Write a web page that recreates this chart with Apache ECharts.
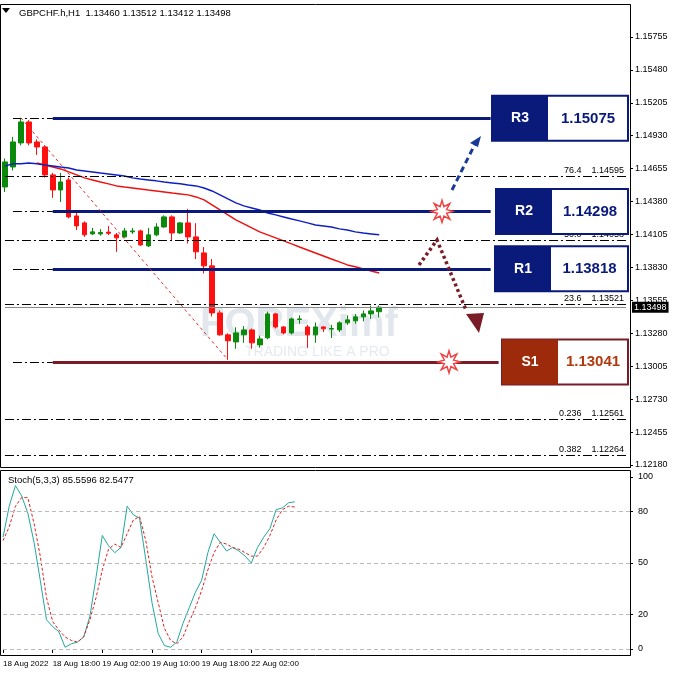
<!DOCTYPE html>
<html><head><meta charset="utf-8">
<script src="https://cdn.jsdelivr.net/npm/echarts@6/dist/echarts.min.js"></script>
<style>html,body{margin:0;padding:0;background:#fff}#c{width:678px;height:678px}</style>
</head><body><div id="c"></div>
<script>
// ---- data ----
const candles = [
[1.14502,1.14711,1.14460,1.14740],[1.14669,1.14878,1.14640,1.14920],[1.14870,1.15045,1.14850,1.15079],
[1.15045,1.14870,1.14850,1.15060],[1.14878,1.14836,1.14770,1.14900],[1.14836,1.14603,1.14580,1.14850],
[1.14603,1.14477,1.14411,1.14620],[1.14477,1.14544,1.14377,1.14619],[1.14561,1.14252,1.14240,1.14580],
[1.14260,1.14177,1.14143,1.14290],[1.14202,1.14102,1.14085,1.14215],[1.14110,1.14127,1.14100,1.14160],
[1.14110,1.14122,1.14095,1.14150],[1.14125,1.14115,1.14100,1.14175],[1.14102,1.14077,1.13960,1.14118],
[1.14085,1.14135,1.14080,1.14160],[1.14127,1.14135,1.14110,1.14160],[1.14135,1.14018,1.14010,1.14145],
[1.14010,1.14102,1.14000,1.14160],[1.14102,1.14168,1.14090,1.14200],[1.14168,1.14252,1.14160,1.14265],
[1.14252,1.14118,1.14050,1.14265],[1.14118,1.14202,1.14110,1.14210],[1.14202,1.14085,1.14030,1.14319],
[1.14085,1.13960,1.13900,1.14200],[1.13951,1.13843,1.13780,1.14000],[1.13843,1.13450,1.13420,1.13900],
[1.13450,1.13267,1.13260,1.13470],[1.13267,1.13217,1.13058,1.13280],[1.13208,1.13283,1.13150,1.13330],
[1.13267,1.13308,1.13200,1.13340],[1.13308,1.13200,1.13150,1.13320],[1.13183,1.13233,1.13160,1.13260],
[1.13242,1.13442,1.13230,1.13460],[1.13442,1.13333,1.13320,1.13450],[1.13333,1.13283,1.13270,1.13340],
[1.13283,1.13400,1.13270,1.13410],[1.13395,1.13400,1.13360,1.13430],[1.13333,1.13267,1.13158,1.13350],
[1.13267,1.13333,1.13200,1.13370],[1.13333,1.13317,1.13290,1.13340],[1.13315,1.13320,1.13240,1.13350],
[1.13308,1.13367,1.13290,1.13380],[1.13367,1.13392,1.13350,1.13430],[1.13384,1.13417,1.13360,1.13440],
[1.13417,1.13442,1.13380,1.13470],[1.13442,1.13467,1.13400,1.13510],[1.13460,1.13498,1.13412,1.13512]];
const maBlue = [1.14678,1.14695,1.14695,1.14703,1.14695,1.14686,1.14678,1.14669,1.14661,1.14644,1.14636,1.14628,
1.14619,1.14611,1.14603,1.14594,1.14578,1.14569,1.14561,1.14553,1.14544,1.14536,1.14528,1.14519,1.14511,1.14494,
1.14469,1.14436,1.14402,1.14369,1.14344,1.14327,1.14310,1.14285,1.14269,1.14252,1.14235,1.14219,1.14202,1.14185,
1.14177,1.14168,1.14152,1.14143,1.14127,1.14118,1.14110,1.14102];
const maRed = [null,null,null,null,1.14703,1.14686,1.14669,1.14653,1.14628,1.14603,1.14578,1.14561,1.14544,1.14528,
1.14511,1.14502,1.14494,1.14486,1.14477,1.14469,1.14461,1.14452,1.14444,1.14436,1.14419,1.14394,1.14352,1.14310,
1.14269,1.14227,1.14194,1.14160,1.14127,1.14102,1.14077,1.14052,1.14027,1.14001,1.13976,1.13951,1.13926,1.13901,
1.13876,1.13851,1.13835,1.13818,1.13801,1.13784];
const stochMain = [65,83,95,89,79,62,40,17,13,10,1,3,4,7,19,42,66,60,56,59,83,78,76,52,27,9,2,1,4,15,24,33,40,56,
67,62,57,59,57,54,50,59,65,70,81,82,85,85.56];
const stochSignal = [63,71,83,88,88,73,54,30,16,11,7,5,4,7,17,30,46,58,61,59,67,75,77,63,42,27,12,5,3,7,16,24,34,
46,56,62,61,59,58,56,54,54,59,66,75,81,83,82.55];
const priceTicks = [1.12180,1.12455,1.12730,1.13005,1.13280,1.13555,1.13830,1.14105,1.14380,1.14655,1.14930,1.15205,1.15480,1.15755];
const stochTicks = [0,20,50,80,100];
const timeLabels = {0:'18 Aug 2022',8:'18 Aug 18:00',16:'19 Aug 02:00',24:'19 Aug 10:00',32:'19 Aug 18:00',40:'22 Aug 02:00'};
const fibLevels = [['76.4',1.14595],['50.0',1.14058],['23.6',1.13521],['0.236',1.12561],['0.382',1.12264]];
const sr = [['R3',1.15075],['R2',1.14298],['R1',1.13818],['S1',1.13041]];
const lastPrice = 1.13498;
const header = 'GBPCHF.h,H1  1.13460 1.13512 1.13412 1.13498';
const stochHeader = 'Stoch(5,3,3) 85.5596 82.5477';

const topCats = Array.from({length:79},(_,i)=>i);
const botCats = Array.from({length:102},(_,i)=>i);
const F = 'Liberation Sans, Arial, sans-serif';
const dashDot = [9,3,2,3];
const navy = '#0a1a7a', maroon = '#7a1c28';
const END = 78;

const markLines = [];
fibLevels.forEach(([n,v])=>markLines.push([{coord:[0,v],lineStyle:{color:'#000',type:dashDot,width:1},
  label:{show:true,position:'insideEndTop',formatter:n+'    '+v.toFixed(5),fontSize:9,color:'#000',fontFamily:F,distance:[2,1]}},{coord:[END,v]}]));
sr.forEach(([n,v])=>{
  const col = n==='S1'?maroon:navy;
  markLines.push([{coord:[1,v],lineStyle:{color:'#000',type:dashDot,width:1},label:{show:false}},{coord:[6,v]}]);
  markLines.push([{coord:[6,v],lineStyle:{color:col,type:'solid',width:3},label:{show:false}},{coord:[n==='S1'?62:61,v]}]);
});
markLines.push([{coord:[0,lastPrice],lineStyle:{color:'#888',type:'solid',width:1},
  label:{show:true,position:'end',formatter:lastPrice.toFixed(5),backgroundColor:'#000',color:'#fff',fontSize:9,padding:[1,2],fontFamily:F,distance:6}},{coord:[END,lastPrice]}]);
markLines.push([{coord:[2,candles[2][3]],lineStyle:{color:'#e03030',type:[3,3],width:1},label:{show:false}},{coord:[28,candles[28][2]]}]);

const chart = echarts.init(document.getElementById('c'));
chart.setOption({
  animation:false,
  grid:[{left:1,right:48,top:5,height:462},{left:3,right:48,top:472,height:183}],
  xAxis:[
    {type:'category',data:topCats,gridIndex:0,boundaryGap:true,axisLine:{show:false},axisTick:{show:false},axisLabel:{show:false}},
    {type:'category',data:botCats,gridIndex:1,boundaryGap:false,axisLine:{show:false},
      axisTick:{show:true,length:4,lineStyle:{color:'#000'},interval:(i)=>timeLabels[i]!==undefined},
      axisLabel:{show:true,hideOverlap:false,showMinLabel:true,interval:(i)=>timeLabels[i]!==undefined,formatter:(v)=>timeLabels[v]||'',align:'left',fontSize:8,color:'#000',fontFamily:F,margin:5}}
  ],
  yAxis:[
    {type:'value',gridIndex:0,position:'right',min:1.12163,max:1.16022,splitLine:{show:false},
      axisLine:{show:true,lineStyle:{color:'#000'}},axisTick:{show:true,length:3,customValues:priceTicks,lineStyle:{color:'#000'}},
      axisLabel:{customValues:priceTicks,formatter:(v)=>v.toFixed(5),fontSize:9,color:'#000',fontFamily:F,margin:5}},
    {type:'value',gridIndex:1,position:'right',min:-3.5,max:102.9,splitLine:{show:false},
      axisLine:{show:true,lineStyle:{color:'#000'}},axisTick:{show:true,length:3,customValues:stochTicks,lineStyle:{color:'#000'}},
      axisLabel:{customValues:stochTicks,fontSize:9,color:'#000',fontFamily:F,margin:8}}
  ],
  series:[
    {type:'candlestick',xAxisIndex:0,yAxisIndex:0,data:candles,barWidth:5,
      itemStyle:{color:'#0a8a0a',color0:'#ff1010',borderColor:'#0a8a0a',borderColor0:'#ff1010',borderWidth:1},
      markLine:{symbol:'none',silent:true,data:markLines}},
    {type:'line',xAxisIndex:0,yAxisIndex:0,data:maRed,showSymbol:false,lineStyle:{color:'#ee1111',width:1.5},z:3},
    {type:'line',xAxisIndex:0,yAxisIndex:0,data:maBlue,showSymbol:false,lineStyle:{color:'#1020c0',width:1.5},z:3},
    {type:'line',xAxisIndex:1,yAxisIndex:1,data:stochMain,showSymbol:false,lineStyle:{color:'#20a89c',width:1},
      markLine:{symbol:'none',silent:true,label:{show:false},lineStyle:{color:'#bbb',type:[4,3],width:1},
        data:[0,20,50,80].map(v=>[{coord:[0,v]},{coord:[101,v]}])}},
    {type:'line',xAxisIndex:1,yAxisIndex:1,data:stochSignal,showSymbol:false,lineStyle:{color:'#e02020',width:1,type:[3,2]}}
  ]
});

// ---- annotations ----
function star(cx,cy,r1,r2,n){const p=[];for(let i=0;i<2*n;i++){const a=Math.PI*i/n;const r=i%2?r2:r1;p.push([cx+r*Math.cos(a),cy+r*Math.sin(a)]);}return p;}
const g = [];
g.push({type:'rect',shape:{x:0.5,y:4.5,width:630,height:463},style:{fill:'none',stroke:'#000',lineWidth:1},z:50});
g.push({type:'rect',shape:{x:0.5,y:470.5,width:630,height:185},style:{fill:'none',stroke:'#000',lineWidth:1},z:50});
g.push({type:'text',x:200,y:305,style:{text:'FOREXimf',font:'bold 40px '+F,fill:'rgba(150,170,195,0.28)'},z:1});
g.push({type:'text',x:245,y:345,style:{text:'TRADING LIKE A PRO',font:'14px '+F,fill:'rgba(150,170,195,0.25)'},z:1});
g.push({type:'polygon',shape:{points:[[2,8],[10,8],[6,13]]},style:{fill:'#000'},z:60});
g.push({type:'text',x:19,y:8,style:{text:header,font:'9.5px '+F,fill:'#000'},z:60});
g.push({type:'text',x:8,y:475,style:{text:stochHeader,font:'9.5px '+F,fill:'#000'},z:60});
const boxX = {R3:492,R2:496,R1:495,S1:502};
sr.forEach(([n,v])=>{
  const y = chart.convertToPixel({yAxisIndex:0},v);
  const col = n==='S1'?'#9e2a0c':navy;
  const bcol = n==='S1'?maroon:navy;
  const x = boxX[n], w = 628-x, h = 45;
  g.push({type:'rect',shape:{x:x,y:y-h/2,width:w,height:h},style:{fill:'#fff',stroke:bcol,lineWidth:2},z:40});
  g.push({type:'rect',shape:{x:x,y:y-h/2,width:56,height:h},style:{fill:col},z:41});
  g.push({type:'text',x:x+28,y:y,style:{text:n,font:'bold 14px '+F,fill:'#fff',align:'center',verticalAlign:'middle'},z:42});
  g.push({type:'text',x:x+56+(w-56)/2,y:y,style:{text:v.toFixed(5),font:'bold 15px '+F,fill:n==='S1'?'#b03a10':navy,align:'center',verticalAlign:'middle'},z:42});
});
const yR2 = chart.convertToPixel({yAxisIndex:0},1.14298), yS1 = chart.convertToPixel({yAxisIndex:0},1.13041);
g.push({type:'polygon',shape:{points:star(442,yR2,11,5,8)},style:{fill:'#fff',stroke:'#f04040',lineWidth:1.5},z:45});
g.push({type:'polygon',shape:{points:star(449,yS1,11,5,8)},style:{fill:'#fff',stroke:'#f04040',lineWidth:1.5},z:45});
g.push({type:'line',shape:{x1:452,y1:190,x2:476,y2:142},style:{stroke:'#1a3a9a',lineWidth:3,lineDash:[6,4]},z:45});
g.push({type:'polygon',shape:{points:[[481,136],[470,143],[478,147]]},style:{fill:'#1a3a9a'},z:45});
g.push({type:'polyline',shape:{points:[[419,265],[437,240],[466,310]]},style:{stroke:maroon,lineWidth:3.5,lineDash:[3,3],fill:'none'},z:45});
g.push({type:'polygon',shape:{points:[[466,314],[484,313],[479,333]]},style:{fill:maroon},z:45});
chart.setOption({graphic:g});
</script></body></html>
